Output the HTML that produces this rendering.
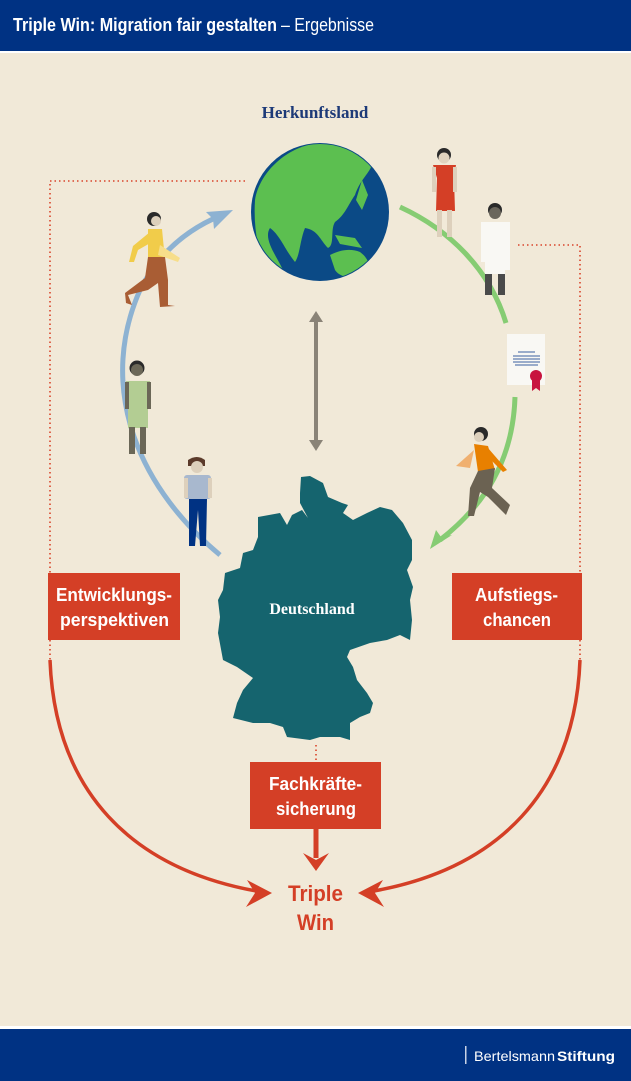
<!DOCTYPE html>
<html><head><meta charset="utf-8"><style>
html,body{margin:0;padding:0;width:631px;height:1081px;overflow:hidden;background:#f1e9d8}
svg{display:block}
</style></head><body>
<svg width="631" height="1081" viewBox="0 0 631 1081" xmlns="http://www.w3.org/2000/svg">
<rect x="0" y="0" width="631" height="1081" fill="#f1e9d8"/>
<rect x="0" y="0" width="631" height="51" fill="#003283"/>
<rect x="0" y="51" width="631" height="2" fill="#ffffff"/>
<g font-family="Liberation Sans, sans-serif" fill="#fff">
<text x="13" y="31" font-size="18" font-weight="bold" textLength="264" lengthAdjust="spacingAndGlyphs">Triple Win: Migration fair gestalten</text>
<text x="281" y="31" font-size="18" textLength="93" lengthAdjust="spacingAndGlyphs">– Ergebnisse</text>
</g>
<rect x="0" y="1026" width="631" height="3" fill="#ffffff"/>
<rect x="0" y="1029" width="631" height="52" fill="#003283"/>
<rect x="465" y="1046" width="1.5" height="18" fill="#c8d2e6"/>
<text x="474" y="1061" fill="#fff" font-size="14" font-family="Liberation Sans, sans-serif" textLength="81" lengthAdjust="spacingAndGlyphs">Bertelsmann</text>
<text x="557" y="1061" fill="#fff" font-size="14" font-weight="bold" font-family="Liberation Sans, sans-serif" textLength="58" lengthAdjust="spacingAndGlyphs">Stiftung</text>

<text x="315" y="118" text-anchor="middle" fill="#1d3a78" font-size="17" font-weight="bold" font-family="Liberation Serif, serif">Herkunftsland</text>

<g stroke="#d9442a" stroke-width="1.6" stroke-dasharray="1.5 3" fill="none">
<path d="M245,181 H50 V573"/>
<path d="M518,245 H580 V573"/>
<path d="M316,745 V762"/>
<path d="M50,640 V660"/>
<path d="M580,640 V660"/>
</g>

<circle cx="320" cy="212" r="69" fill="#0b4a86"/>
<clipPath id="g"><circle cx="320" cy="212" r="68"/></clipPath>
<g clip-path="url(#g)" fill="#5cbf50">
<path d="M255,200 C260,170 290,145 320,143 C350,142 370,150 372,165 C368,175 360,180 355,195 C348,205 345,215 335,222 C330,230 335,245 328,248 C320,240 318,230 305,228 C300,240 300,255 295,262 C285,250 280,235 270,228 C262,240 280,260 285,275 C270,272 262,262 258,245 C255,230 254,215 255,200Z"/>
<path d="M330,255 C340,250 350,248 360,252 C368,258 372,266 365,275 C355,280 340,278 335,270 Z"/>
<path d="M335,235 L355,238 L362,248 L340,244 Z"/>
<path d="M362,180 L368,195 L362,210 L356,200 Z"/>
</g>

<g stroke="#8a8377" stroke-width="4" fill="#8a8377">
<line x1="316" y1="322" x2="316" y2="440"/>
<path d="M309,322 L316,311 L323,322Z" stroke="none"/>
<path d="M309,440 L316,451 L323,440Z" stroke="none"/>
</g>

<path d="M220,555 C130,480 100,380 140,290 C160,250 190,228 222,215" fill="none" stroke="#8db2d2" stroke-width="5"/>
<path d="M233,210 L206,212 L213,219 L214,229Z" fill="#8db2d2"/>

<path d="M400,207 C450,230 490,270 506,323" fill="none" stroke="#86cc73" stroke-width="5"/>
<path d="M515,397 C513,460 485,505 440,540" fill="none" stroke="#86cc73" stroke-width="5"/>
<path d="M430,549 L436,530 L441,537 L452,535Z" fill="#86cc73"/>

<rect x="507" y="334" width="38" height="51" fill="#f9f8f4"/>
<g stroke="#3a5fa0" stroke-width="1">
<line x1="518" y1="352" x2="535" y2="352"/><line x1="513" y1="356" x2="540" y2="356"/><line x1="513" y1="359" x2="540" y2="359"/><line x1="513" y1="362" x2="540" y2="362"/><line x1="515" y1="365" x2="538" y2="365"/>
</g>
<circle cx="536" cy="376" r="6" fill="#c8143f"/>
<path d="M532,380 L532,391 L536,388 L540,391 L540,380Z" fill="#c8143f"/>

<path fill="#15646e" d="M301,477 L310,476 L323,483 L328,497 L342,503 L348,505 L343,513 L353,520 L367,513 L380,507 L392,510 L403,523 L412,540 L412,560 L407,570 L413,587 L410,600 L412,620 L410,640 L400,635 L387,640 L370,643 L350,650 L347,657 L353,667 L357,680 L367,693 L373,703 L370,713 L360,717 L350,723 L350,740 L340,737 L320,737 L310,740 L287,737 L283,727 L270,723 L253,723 L233,718 L237,703 L243,690 L253,678 L237,667 L223,660 L218,633 L220,617 L218,600 L223,590 L225,573 L240,568 L243,553 L253,550 L258,537 L258,517 L280,513 L287,525 L292,515 L302,510 L308,518 L300,503 L300,493 Z"/>
<text x="312" y="614" text-anchor="middle" fill="#fff" font-size="16" font-weight="bold" font-family="Liberation Serif, serif">Deutschland</text>

<g font-family="Liberation Sans, sans-serif" font-weight="bold" font-size="18" fill="#fff" lengthAdjust="spacingAndGlyphs">
<rect x="48" y="573" width="132" height="67" fill="#d43f26"/>
<text x="56" y="601" textLength="116" lengthAdjust="spacingAndGlyphs">Entwicklungs-</text><text x="60" y="626" textLength="109" lengthAdjust="spacingAndGlyphs">perspektiven</text>
<rect x="452" y="573" width="130" height="67" fill="#d43f26"/>
<text x="475" y="601" textLength="83" lengthAdjust="spacingAndGlyphs">Aufstiegs-</text><text x="483" y="626" textLength="68" lengthAdjust="spacingAndGlyphs">chancen</text>
<rect x="250" y="762" width="131" height="67" fill="#d43f26"/>
<text x="269" y="790" textLength="93" lengthAdjust="spacingAndGlyphs">Fachkräfte-</text><text x="276" y="815" textLength="80" lengthAdjust="spacingAndGlyphs">sicherung</text>
</g>

<g fill="none" stroke="#d43f26">
<path d="M50,660 C55,790 130,870 262,892" stroke-width="3.5"/>
<path d="M580,660 C575,790 500,870 368,892" stroke-width="3.5"/>
<line x1="316" y1="829" x2="316" y2="858" stroke-width="5"/>
</g>
<g fill="#d43f26">
<path d="M272,893 L247,880 L255,893 L246,907Z"/>
<path d="M358,893 L383,880 L375,893 L384,907Z"/>
<path d="M303,853 L316,871 L329,853 L316,860Z"/>
</g>
<text x="288" y="901" fill="#d43f26" font-size="22" font-weight="bold" font-family="Liberation Sans, sans-serif" textLength="55" lengthAdjust="spacingAndGlyphs">Triple</text>
<text x="297" y="930" fill="#d43f26" font-size="22" font-weight="bold" font-family="Liberation Sans, sans-serif" textLength="37" lengthAdjust="spacingAndGlyphs">Win</text>

<circle cx="444" cy="155" r="7" fill="#2a2a2a"/><circle cx="444" cy="158" r="5.5" fill="#e0d3bf"/>
<path d="M433,165 H456 L454,178 L455,211 H436 L437,178Z" fill="#d43f26"/>
<rect x="432" y="167" width="4" height="25" fill="#ddd0bc"/><rect x="453" y="167" width="4" height="25" fill="#ddd0bc"/>
<rect x="437" y="210" width="5" height="27" fill="#ddd0bc"/><rect x="447" y="210" width="5" height="27" fill="#ddd0bc"/>
<circle cx="495" cy="210" r="7" fill="#2a2a2a"/><circle cx="495" cy="213" r="6" fill="#6a665c"/>
<path d="M481,222 H510 V270 H485 V262 H481Z" fill="#f9f8f4"/>
<rect x="485" y="273" width="7" height="22" fill="#4a4a4a"/><rect x="498" y="273" width="7" height="22" fill="#4a4a4a"/>
<rect x="485" y="268" width="20" height="6" fill="#f9f8f4"/>
<circle cx="481" cy="434" r="7" fill="#2a2a2a"/><circle cx="479" cy="437" r="5" fill="#ddd0bc"/>
<path d="M474,444 L488,446 L495,470 L478,472 Z" fill="#e88000"/>
<path d="M474,450 L456,466 L470,468Z" fill="#f0b070"/>
<path d="M488,448 L507,470 L503,472 L486,455Z" fill="#e88000"/>
<path d="M478,471 L495,468 L492,488 L510,505 L506,515 L488,497 L480,492 L474,516 L468,516 L470,488Z" fill="#6b6252"/>
<circle cx="154" cy="219" r="7" fill="#2a2a2a"/><circle cx="156" cy="221" r="5" fill="#ddd0bc"/>
<path d="M148,229 H162 L165,260 H148Z" fill="#f1cc4a"/>
<path d="M150,232 L133,246 L129,262 L134,262 L138,250 L152,242Z" fill="#f1cc4a"/>
<path d="M160,245 L180,258 L178,262 L158,255Z" fill="#f7de8a"/>
<path d="M148,257 L165,257 L168,280 L168,305 L175,306 L160,307 L158,283 L148,290 L128,295 L132,305 L126,303 L125,293 L145,278Z" fill="#a95d34"/>
<circle cx="137" cy="368" r="7.5" fill="#2a2a2a"/><circle cx="137" cy="370" r="6" fill="#6b6757"/>
<path d="M126,381 H150 L148,398 L148,428 H128 L128,398Z" fill="#b3cd93"/>
<rect x="125" y="382" width="4" height="27" fill="#6b6757"/><rect x="147" y="382" width="4" height="27" fill="#6b6757"/>
<rect x="129" y="427" width="6" height="27" fill="#6b6757"/><rect x="140" y="427" width="6" height="27" fill="#6b6757"/>
<path d="M188,460 Q197,454 205,460 V466 H188Z" fill="#5b3a2a"/>
<circle cx="197" cy="467" r="6" fill="#ddd0bc"/>
<rect x="184" y="475" width="27" height="24" rx="3" fill="#a8b8ce"/>
<rect x="184" y="478" width="4" height="20" fill="#ddd0bc"/><rect x="208" y="478" width="4" height="20" fill="#ddd0bc"/>
<path d="M189,499 H207 L206,546 H200 L198,510 L195,546 H189Z" fill="#003283"/>
</svg>
</body></html>
